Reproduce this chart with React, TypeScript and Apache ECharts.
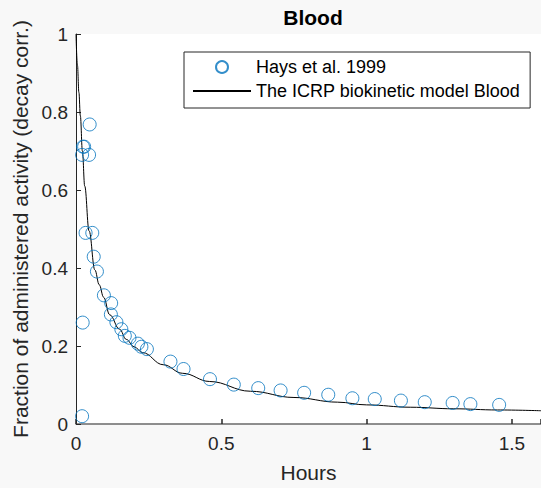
import React, { useEffect, useRef } from "react";
import * as echarts from "echarts";

const titleText = "Blood";
const scatterName = "Hays et al. 1999";
const lineName = "The ICRP biokinetic model Blood";
const xAxisName = "Hours";
const yAxisName = "Fraction of administered activity (decay corr.)";

// Measured points (hours, fraction)
const measX = [0.024, 0.047, 0.028, 0.021, 0.045, 0.033, 0.056, 0.061, 0.072, 0.023, 0.021, 0.096, 0.121, 0.12, 0.139, 0.156, 0.168, 0.184, 0.213, 0.225, 0.244, 0.325, 0.37, 0.461, 0.543, 0.627, 0.704, 0.785, 0.868, 0.951, 1.028, 1.118, 1.2, 1.296, 1.357, 1.456];
const measY = [0.711, 0.768, 0.711, 0.69, 0.69, 0.49, 0.49, 0.429, 0.391, 0.26, 0.02, 0.33, 0.31, 0.281, 0.261, 0.243, 0.226, 0.221, 0.206, 0.198, 0.192, 0.16, 0.141, 0.115, 0.101, 0.092, 0.086, 0.08, 0.075, 0.066, 0.064, 0.06, 0.056, 0.054, 0.051, 0.049];

// Model curve
const modelX = [0, 0.005, 0.01, 0.015, 0.022, 0.03, 0.045, 0.065, 0.08, 0.095, 0.116, 0.15, 0.173, 0.2, 0.229, 0.3, 0.367, 0.46, 0.6, 0.75, 0.9, 1.0, 1.15, 1.3, 1.45, 1.6];
const modelY = [1.0, 0.92, 0.85, 0.79, 0.7, 0.61, 0.495, 0.395, 0.357, 0.325, 0.28, 0.243, 0.217, 0.198, 0.183, 0.152, 0.13, 0.109, 0.084, 0.068, 0.056, 0.049, 0.043, 0.039, 0.036, 0.034];

const xTicks = [0, 0.5, 1, 1.5];

export default function App() {
  const ref = useRef<HTMLDivElement>(null);
  useEffect(() => {
    const chart = echarts.init(ref.current!, undefined, { renderer: "svg" });
    const font = "'Liberation Sans', Arial, Helvetica, sans-serif";
    const axisColor = "#262626";
    chart.setOption({
      animation: false,
      backgroundColor: "#f8f8f8",
      textStyle: { fontFamily: font },
      title: {
        text: titleText,
        left: 308,
        top: 2,
        textAlign: "center",
        textStyle: { fontSize: 21, fontWeight: "bold", color: "#000", fontFamily: font },
      },
      grid: {
        left: 76,
        top: 34,
        right: 0,
        bottom: 61,
        show: true,
        backgroundColor: "#ffffff",
        borderWidth: 0,
      },
      legend: {
        orient: "vertical",
        left: 184,
        top: 52,
        padding: [6, 10, 8, 8],
        itemGap: 6,
        itemWidth: 58,
        itemHeight: 12,
        borderColor: axisColor,
        borderWidth: 1,
        borderRadius: 0,
        backgroundColor: "#ffffff",
        textStyle: { fontSize: 18, color: "#000", fontFamily: font },
        data: [
          { name: scatterName },
          { name: lineName, itemStyle: { opacity: 0 } },
        ],
      },
      xAxis: {
        type: "value",
        min: 0,
        max: 1.6,
        interval: 0.5,
        name: xAxisName,
        nameLocation: "middle",
        nameGap: 38,
        nameTextStyle: { fontSize: 21, color: axisColor, fontFamily: font },
        axisLine: { show: true, lineStyle: { color: "#6a6a6a", width: 1.5 } },
        axisTick: { show: true, inside: true, length: 5, lineStyle: { color: axisColor, width: 1.5 } },
        splitLine: { show: false },
        axisLabel: {
          fontSize: 19,
          color: axisColor,
          margin: 10,
          customValues: xTicks,
          formatter: (v: number) => String(v),
        },
      },
      yAxis: {
        type: "value",
        min: 0,
        max: 1,
        interval: 0.2,
        name: yAxisName,
        nameLocation: "middle",
        nameGap: 42,
        nameTextStyle: { fontSize: 21, color: axisColor, fontFamily: font },
        axisLine: { show: true, lineStyle: { color: axisColor, width: 1 } },
        axisTick: { show: true, inside: true, length: 5, lineStyle: { color: axisColor } },
        splitLine: { show: false },
        axisLabel: {
          fontSize: 19,
          color: axisColor,
          margin: 8,
          formatter: (v: number) => String(Math.round(v * 10) / 10),
        },
      },
      series: [
        {
          name: scatterName,
          type: "scatter",
          symbol: "circle",
          symbolSize: 13,
          itemStyle: { color: "rgba(0,0,0,0)", borderColor: "#0072BD", borderWidth: 1 },
          data: measX.map((x, i) => [x, measY[i]]),
          z: 3,
        },
        {
          name: lineName,
          type: "line",
          symbol: "none",
          showSymbol: false,
          smooth: 0.4,
          smoothMonotone: "x",
          lineStyle: { color: "#000", width: 1 },
          itemStyle: { color: "#000" },
          data: modelX.map((x, i) => [x, modelY[i]]),
          z: 2,
        },
      ],
    });
    return () => chart.dispose();
  }, []);
  return (
    <div
      ref={ref}
      style={{ position: "absolute", left: 0, top: 0, width: 541, height: 488 }}
    />
  );
}
